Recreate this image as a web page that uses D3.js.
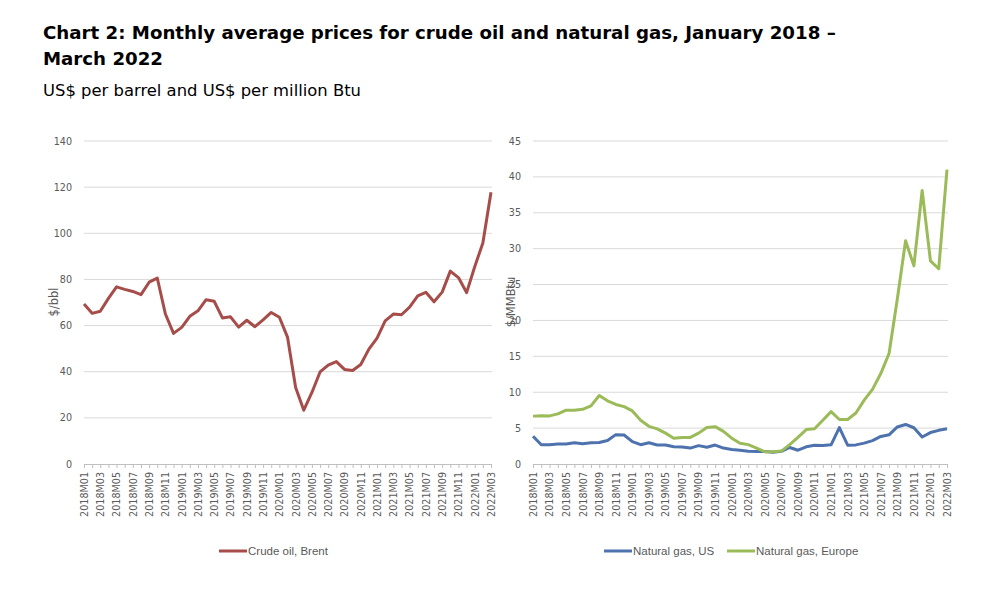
<!DOCTYPE html>
<html><head><meta charset="utf-8">
<script src="https://cdn.jsdelivr.net/npm/d3@7"></script>
<style>body{margin:0;background:#fff}svg{display:block}</style>
</head><body>
<svg id="c" width="1004" height="590"></svg>
<script>
const months = [];
for (let y = 2018; y <= 2022; y++) for (let m = 1; m <= 12; m++) {
  if (y === 2022 && m > 3) break;
  months.push(y + "M" + String(m).padStart(2, "0"));
}
const brent = [69.3,65.3,66.2,71.8,76.8,75.7,74.8,73.4,78.8,80.6,65.0,56.6,
  59.2,64.0,66.4,71.2,70.5,63.3,63.8,59.3,62.3,59.5,62.5,65.7,
  63.6,55.0,33.2,23.3,31.0,39.9,42.9,44.4,41.0,40.5,43.1,49.8,
  54.6,62.0,65.0,64.7,68.0,72.9,74.4,70.3,74.5,83.6,80.8,74.3,
  85.5,95.8,117.8];
const gasUS = [3.87,2.67,2.69,2.80,2.80,2.97,2.83,2.96,2.99,3.28,4.09,4.04,
  3.11,2.69,2.95,2.65,2.64,2.40,2.37,2.22,2.56,2.33,2.64,2.22,
  2.02,1.91,1.79,1.74,1.75,1.63,1.77,2.30,1.92,2.39,2.61,2.59,
  2.67,5.07,2.62,2.66,2.91,3.26,3.84,4.07,5.16,5.51,5.05,3.76,
  4.38,4.69,4.90];
const gasEU = [6.67,6.72,6.70,6.98,7.50,7.50,7.62,8.10,9.55,8.80,8.30,8.00,
  7.40,6.10,5.25,4.90,4.30,3.60,3.70,3.70,4.30,5.10,5.20,4.55,
  3.60,2.90,2.70,2.20,1.70,1.70,1.80,2.70,3.70,4.80,4.90,6.10,
  7.30,6.20,6.20,7.10,8.90,10.40,12.60,15.40,23.0,31.1,27.6,38.1,
  28.3,27.2,41.0];
const leftTicks = [0,20,40,60,80,100,120,140];
const rightTicks = [0,5,10,15,20,25,30,35,40,45];
const leftLegend = ["Crude oil, Brent"];
const rightLegend = ["Natural gas, US", "Natural gas, Europe"];
const colors = {brent:"#A64D4A", us:"#4D72AD", eu:"#9BBB59"};

const svg = d3.select("#c");
const tickFont = "'DejaVu Sans', Verdana, sans-serif";
const textCol = "#595959";

svg.append("text").attr("x",43).attr("y",39)
  .attr("font-family",tickFont).attr("font-weight","bold").attr("font-size",18.2).attr("fill","#000")
  .text("Chart 2: Monthly average prices for crude oil and natural gas, January 2018 \u2013");
svg.append("text").attr("x",43).attr("y",65)
  .attr("font-family",tickFont).attr("font-weight","bold").attr("font-size",18.2).attr("fill","#000")
  .text("March 2022");
svg.append("text").attr("x",43).attr("y",96)
  .attr("font-family",tickFont).attr("font-size",16.4).attr("fill","#000")
  .text("US$ per barrel and US$ per million Btu");

function panel(x0, x1, domainMax, ticks, series, yTitle, yTitleX, tickRight) {
  const x = d3.scalePoint().domain(months).range([x0, x1]);
  const y = d3.scaleLinear().domain([0, domainMax]).range([464, 141]);
  const g = svg.append("g");
  g.selectAll("line.grid").data(ticks.filter(t => t > 0)).join("line")
    .attr("x1", x0).attr("x2", x1 + 1).attr("y1", d => y(d)).attr("y2", d => y(d))
    .attr("stroke", "#d9d9d9").attr("stroke-width", 1);
  const ya = d3.axisLeft(y).tickValues(ticks).tickSize(0).tickPadding(0);
  const yg = g.append("g").attr("transform", `translate(${tickRight},0)`).call(ya);
  yg.select(".domain").remove();
  yg.selectAll("text").attr("font-family", tickFont).attr("font-size", 9.6).attr("fill", textCol);
  const xa = d3.axisBottom(x).tickSize(4).tickPadding(0)
    .tickFormat((d, i) => i % 2 === 0 ? d : "");
  const xg = g.append("g").attr("transform", "translate(0,464)").call(xa);
  xg.select(".domain").attr("stroke", "#bfbfbf").attr("d", `M${x0},0.5H${x1+1}`);
  xg.selectAll(".tick line").attr("stroke", "#bfbfbf");
  xg.selectAll(".tick text").attr("font-family", tickFont).attr("font-size", 9.6).attr("fill", textCol)
    .attr("transform", "rotate(-90)").attr("text-anchor", "end").attr("dy", "0.35em")
    .attr("x", -8).attr("y", 0);
  g.append("text").attr("transform", `translate(${yTitleX},302) rotate(-90)`)
    .attr("text-anchor", "middle").attr("font-family", tickFont).attr("font-size", 11.5).attr("fill", textCol)
    .text(yTitle);
  const line = d3.line().x((d, i) => x(months[i])).y(d => y(d));
  series.forEach(s => {
    g.append("path").attr("d", line(s.values)).attr("fill", "none")
      .attr("stroke", s.color).attr("stroke-width", 3).attr("stroke-linejoin", "round");
  });
}
panel(84, 491, 140, leftTicks, [{values: brent, color: colors.brent}], "$/bbl", 58, 72);
panel(533, 947, 45, rightTicks, [{values: gasUS, color: colors.us}, {values: gasEU, color: colors.eu}], "$/MMBtu", 515, 521);

function legend(items, xs) {
  items.forEach((it, i) => {
    svg.append("line").attr("x1", xs[i]).attr("x2", xs[i] + 28).attr("y1", 551).attr("y2", 551)
      .attr("stroke", it.color).attr("stroke-width", 3);
    svg.append("text").attr("x", xs[i] + 29).attr("y", 551).attr("dy", "0.35em")
      .attr("font-family", "'Liberation Sans Narrow', 'Liberation Sans', sans-serif").attr("font-size", 11.5)
      .attr("fill", textCol).text(it.label);
  });
}
legend([{label: leftLegend[0], color: colors.brent}], [219]);
legend([{label: rightLegend[0], color: colors.us}, {label: rightLegend[1], color: colors.eu}], [604, 727]);
</script>
</body></html>
